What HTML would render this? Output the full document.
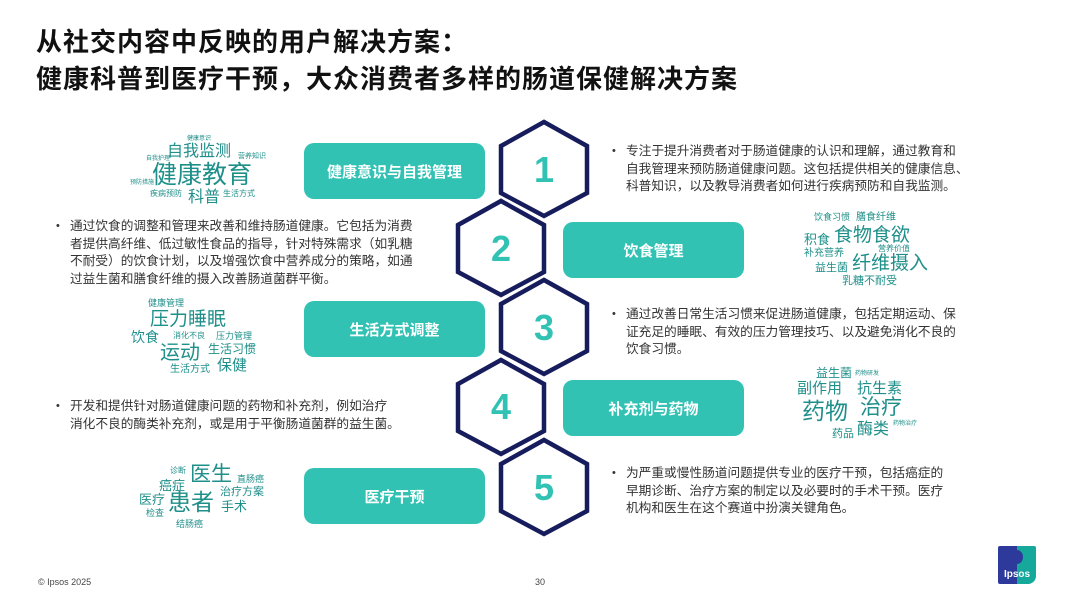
<!DOCTYPE html>
<html><head><meta charset="utf-8"><style>
*{margin:0;padding:0;box-sizing:border-box}
body{width:1080px;height:608px;background:#fff;position:relative;overflow:hidden;font-family:"Liberation Sans","Noto Sans CJK SC",sans-serif}
.t{position:absolute;left:36px;font-size:26px;font-weight:bold;color:#111;white-space:nowrap;letter-spacing:1px}
.pill{position:absolute;width:181px;height:56px;background:#31c2b4;border-radius:10px;color:#fff;font-weight:bold;font-size:15px;display:flex;align-items:center;justify-content:center}
.txt{position:absolute;font-size:12.7px;line-height:17.5px;color:#333;padding-left:14px;white-space:nowrap}
.txt:before{content:"•";position:absolute;left:0;top:0;font-size:11px}
.w{position:absolute;color:#1f8f8a;white-space:nowrap;line-height:1}
.c{position:absolute;font-size:9px;color:#444}
</style></head><body>
<div class="t" style="top:22px">从社交内容中反映的用户解决方案：</div>
<div class="t" style="top:59px">健康科普到医疗干预，大众消费者多样的肠道保健解决方案</div>

<svg style="position:absolute;left:0;top:0" width="1080" height="608">
<g fill="none" stroke="#171d5c" stroke-width="4.5" stroke-linejoin="miter">
<polygon points="544,122 587,146 587,193 544,216 501,193 501,146"/>
<polygon points="501,201 544,225 544,272 501,295 458,272 458,225"/>
<polygon points="544,280 587,304 587,351 544,374 501,351 501,304"/>
<polygon points="501,360 544,384 544,431 501,454 458,431 458,384"/>
<polygon points="544,440 587,464 587,511 544,534 501,511 501,464"/>
</g>
<g fill="#31c2b4" font-family="Liberation Sans,sans-serif" font-weight="bold" font-size="36" text-anchor="middle">
<text x="544" y="182">1</text><text x="501" y="261">2</text><text x="544" y="340">3</text><text x="501" y="419">4</text><text x="544" y="500">5</text>
</g>
</svg>

<div class="pill" style="left:304px;top:143px">健康意识与自我管理</div>
<div class="pill" style="left:563px;top:222px">饮食管理</div>
<div class="pill" style="left:304px;top:301px">生活方式调整</div>
<div class="pill" style="left:563px;top:380px">补充剂与药物</div>
<div class="pill" style="left:304px;top:468px">医疗干预</div>

<div class="txt" style="left:612px;top:143px">专注于提升消费者对于肠道健康的认识和理解，通过教育和<br>自我管理来预防肠道健康问题。这包括提供相关的健康信息、<br>科普知识，以及教导消费者如何进行疾病预防和自我监测。</div>
<div class="txt" style="left:56px;top:218px">通过饮食的调整和管理来改善和维持肠道健康。它包括为消费<br>者提供高纤维、低过敏性食品的指导，针对特殊需求（如乳糖<br>不耐受）的饮食计划，以及增强饮食中营养成分的策略，如通<br>过益生菌和膳食纤维的摄入改善肠道菌群平衡。</div>
<div class="txt" style="left:612px;top:306px">通过改善日常生活习惯来促进肠道健康，包括定期运动、保<br>证充足的睡眠、有效的压力管理技巧、以及避免消化不良的<br>饮食习惯。</div>
<div class="txt" style="left:56px;top:398px">开发和提供针对肠道健康问题的药物和补充剂，例如治疗<br>消化不良的酶类补充剂，或是用于平衡肠道菌群的益生菌。</div>
<div class="txt" style="left:612px;top:465px">为严重或慢性肠道问题提供专业的医疗干预，包括癌症的<br>早期诊断、治疗方案的制定以及必要时的手术干预。医疗<br>机构和医生在这个赛道中扮演关键角色。</div>

<div class="w" style="left:187px;top:136px;font-size:6px">健康意识</div>
<div class="w" style="left:167px;top:144px;font-size:16px">自我监测</div>
<div class="w" style="left:146px;top:156px;font-size:6px">自我护理</div>
<div class="w" style="left:238px;top:153px;font-size:7px">营养知识</div>
<div class="w" style="left:152px;top:163px;font-size:25px">健康教育</div>
<div class="w" style="left:130px;top:180px;font-size:6px">预防措施</div>
<div class="w" style="left:150px;top:190px;font-size:8px">疾病预防</div>
<div class="w" style="left:188px;top:190px;font-size:16px">科普</div>
<div class="w" style="left:223px;top:190px;font-size:8px">生活方式</div>

<div class="w" style="left:814px;top:213px;font-size:9px">饮食习惯</div>
<div class="w" style="left:856px;top:213px;font-size:10px">膳食纤维</div>
<div class="w" style="left:804px;top:233px;font-size:13px">积食</div>
<div class="w" style="left:834px;top:226px;font-size:19px">食物食欲</div>
<div class="w" style="left:878px;top:245px;font-size:8px">营养价值</div>
<div class="w" style="left:804px;top:249px;font-size:10px">补充营养</div>
<div class="w" style="left:852px;top:254px;font-size:19px">纤维摄入</div>
<div class="w" style="left:815px;top:263px;font-size:11px">益生菌</div>
<div class="w" style="left:842px;top:276px;font-size:11px">乳糖不耐受</div>

<div class="w" style="left:148px;top:299px;font-size:9px">健康管理</div>
<div class="w" style="left:150px;top:310px;font-size:19px">压力睡眠</div>
<div class="w" style="left:131px;top:330px;font-size:14px">饮食</div>
<div class="w" style="left:173px;top:332px;font-size:8px">消化不良</div>
<div class="w" style="left:216px;top:332px;font-size:9px">压力管理</div>
<div class="w" style="left:160px;top:343px;font-size:20px">运动</div>
<div class="w" style="left:208px;top:343px;font-size:12px">生活习惯</div>
<div class="w" style="left:217px;top:358px;font-size:15px">保健</div>
<div class="w" style="left:170px;top:365px;font-size:10px">生活方式</div>

<div class="w" style="left:816px;top:367px;font-size:12px">益生菌</div>
<div class="w" style="left:855px;top:371px;font-size:6px">药物研发</div>
<div class="w" style="left:797px;top:381px;font-size:15px">副作用</div>
<div class="w" style="left:857px;top:381px;font-size:15px">抗生素</div>
<div class="w" style="left:802px;top:400px;font-size:23px">药物</div>
<div class="w" style="left:860px;top:397px;font-size:21px">治疗</div>
<div class="w" style="left:893px;top:421px;font-size:6px">药物治疗</div>
<div class="w" style="left:832px;top:429px;font-size:11px">药品</div>
<div class="w" style="left:857px;top:422px;font-size:16px">酶类</div>

<div class="w" style="left:170px;top:467px;font-size:8px">诊断</div>
<div class="w" style="left:190px;top:464px;font-size:21px">医生</div>
<div class="w" style="left:159px;top:479px;font-size:13px">癌症</div>
<div class="w" style="left:237px;top:475px;font-size:9px">直肠癌</div>
<div class="w" style="left:220px;top:487px;font-size:11px">治疗方案</div>
<div class="w" style="left:139px;top:493px;font-size:13px">医疗</div>
<div class="w" style="left:168px;top:491px;font-size:23px">患者</div>
<div class="w" style="left:221px;top:500px;font-size:13px">手术</div>
<div class="w" style="left:146px;top:509px;font-size:9px">检查</div>
<div class="w" style="left:176px;top:520px;font-size:9px">结肠癌</div>

<div class="c" style="left:38px;top:577px">© Ipsos 2025</div>
<div class="c" style="left:535px;top:577px">30</div>
<div style="position:absolute;left:998px;top:546px;width:38px;height:38px;background:linear-gradient(90deg,#2d3a9b 0 50%,#16a89b 50%);border-radius:2px 2px 8px 2px;color:#fff;font-weight:bold;font-size:10px;text-align:center;padding-top:23px">Ipsos</div>
<div style="position:absolute;left:1011px;top:550px;width:12px;height:14px;background:#2d3a9b;border-radius:50%"></div>
</body></html>
